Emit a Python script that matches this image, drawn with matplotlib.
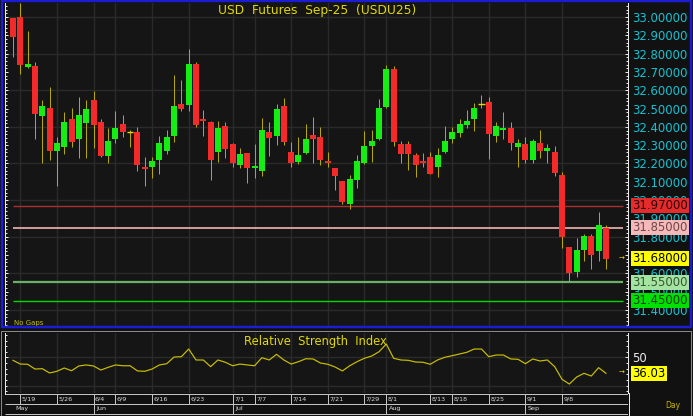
import matplotlib
matplotlib.use('Agg')
import matplotlib.pyplot as plt
from matplotlib.ticker import FixedLocator, MultipleLocator
from matplotlib.transforms import blended_transform_factory
from matplotlib.patches import Rectangle
import numpy as np

# ---------------- data ----------------
opens = [32.993, 33.002, 32.728, 32.734, 32.459, 32.504, 32.269, 32.291, 32.443, 32.332,
         32.422, 32.546, 32.425, 32.240, 32.332, 32.415, 32.373, 32.373, 32.182, 32.182,
         32.219, 32.269, 32.350, 32.523, 32.519, 32.743, 32.443, 32.425, 32.260, 32.404,
         32.304, 32.191, 32.255, 32.173, 32.160, 32.373, 32.350, 32.514, 32.264, 32.209,
         32.258, 32.355, 32.346, 32.213, 32.173, 32.104, 31.978, 32.109, 32.200, 32.297,
         32.331, 32.510, 32.714, 32.304, 32.304, 32.246, 32.213, 32.233, 32.182, 32.260,
         32.332, 32.364, 32.410, 32.441, 32.523, 32.534, 32.350, 32.383, 32.395, 32.291,
         32.304, 32.219, 32.313, 32.269, 32.264, 32.137, 31.745, 31.608, 31.730, 31.803,
         31.721, 31.849]
highs = [32.995, 33.075, 32.923, 32.752, 32.546, 32.616, 32.346, 32.483, 32.504, 32.565,
         32.546, 32.597, 32.443, 32.395, 32.486, 32.464, 32.383, 32.400, 32.233, 32.233,
         32.350, 32.383, 32.683, 32.656, 32.823, 32.752, 32.492, 32.433, 32.433, 32.425,
         32.311, 32.283, 32.255, 32.304, 32.446, 32.425, 32.523, 32.556, 32.315, 32.343,
         32.414, 32.455, 32.400, 32.264, 32.173, 32.104, 32.137, 32.246, 32.377, 32.383,
         32.552, 32.738, 32.734, 32.324, 32.324, 32.258, 32.258, 32.264, 32.286, 32.404,
         32.400, 32.443, 32.492, 32.532, 32.574, 32.561, 32.425, 32.483, 32.425, 32.333,
         32.343, 32.332, 32.383, 32.306, 32.297, 32.155, 31.745, 31.794, 31.814, 31.814,
         31.933, 31.863]
lows = [32.780, 32.689, 32.720, 32.332, 32.200, 32.219, 32.078, 32.250, 32.291, 32.231,
        32.231, 32.283, 32.233, 32.200, 32.310, 32.346, 32.291, 32.160, 32.078, 32.119,
        32.142, 32.250, 32.319, 32.488, 32.488, 32.400, 32.350, 32.109, 32.209, 32.228,
        32.182, 32.173, 32.091, 32.119, 32.131, 32.240, 32.300, 32.300, 32.182, 32.197,
        32.251, 32.200, 32.191, 32.182, 32.055, 31.978, 31.949, 32.064, 32.195, 32.209,
        32.330, 32.503, 32.297, 32.200, 32.164, 32.124, 32.182, 32.142, 32.124, 32.257,
        32.313, 32.343, 32.392, 32.379, 32.501, 32.222, 32.319, 32.332, 32.273, 32.182,
        32.200, 32.200, 32.228, 32.200, 32.131, 31.741, 31.554, 31.581, 31.668, 31.621,
        31.667, 31.621]
closes = [32.889, 32.738, 32.743, 32.470, 32.514, 32.269, 32.313, 32.425, 32.319, 32.464,
          32.496, 32.410, 32.240, 32.322, 32.395, 32.370, 32.373, 32.191, 32.169, 32.213,
          32.313, 32.346, 32.514, 32.497, 32.743, 32.410, 32.432, 32.219, 32.395, 32.279,
          32.200, 32.251, 32.173, 32.186, 32.383, 32.340, 32.496, 32.319, 32.200, 32.246,
          32.333, 32.332, 32.219, 32.200, 32.131, 31.991, 32.113, 32.213, 32.295, 32.324,
          32.504, 32.714, 32.319, 32.251, 32.251, 32.191, 32.200, 32.142, 32.246, 32.322,
          32.370, 32.414, 32.433, 32.504, 32.523, 32.361, 32.404, 32.395, 32.310, 32.313,
          32.219, 32.322, 32.269, 32.286, 32.149, 31.800, 31.600, 31.727, 31.803, 31.699,
          31.863, 31.680]
rsi = [47.5, 44.2, 44.0, 39.8, 40.1, 36.3, 37.8, 40.7, 38.3, 42.5,
       43.4, 42.5, 38.9, 41.3, 43.4, 42.7, 42.7, 38.1, 37.8, 39.8,
       43.4, 44.5, 50.4, 50.7, 57.5, 47.8, 47.8, 41.9, 47.8, 45.8,
       42.7, 44.2, 43.4, 42.7, 49.8, 47.8, 52.8, 47.8, 44.2, 46.3,
       48.9, 48.7, 45.1, 44.0, 41.6, 38.1, 42.7, 46.3, 49.3, 51.3,
       55.1, 61.9, 49.3, 47.8, 47.5, 46.0, 45.8, 44.0, 47.8, 50.2,
       51.6, 53.1, 54.6, 57.5, 57.5, 50.7, 52.2, 52.2, 48.7, 48.4,
       44.5, 48.7, 46.9, 47.8, 41.9, 30.7, 26.5, 32.7, 36.0, 33.6,
       41.0, 36.03]
tick_idx = [1, 6, 11, 14, 19, 24, 30, 33, 38, 43, 48, 51, 57, 60, 65, 70, 75]
tick_labels = ['5/19', '5/26', '6/4', '6/9', '6/16', '6/23', '7/1', '7/7', '7/14',
               '7/21', '7/29', '8/1', '8/13', '8/18', '8/25', '9/1', '9/8']
month_idx = [0, 11, 30, 51, 70]
month_labels = ['May', 'Jun', 'Jul', 'Aug', 'Sep']
levels = [31.97, 31.85, 31.55, 31.45]
level_line_colors = ['#a83030', '#e2a8a8', '#68b068', '#00d800']
level_line_widths = [1.0, 1.3, 1.6, 1.0]
level_box_colors = ['#e42c2c', '#f6b8b8', '#a4e4a0', '#00e000']
level_text_colors = ['#2a0000', '#6a4848', '#345434', '#0a3a0a']
price_ticks = [31.4, 31.5, 31.6, 31.7, 31.8, 31.9, 32.0, 32.1, 32.2, 32.3,
               32.4, 32.5, 32.6, 32.7, 32.8, 32.9, 33.0]
title = 'USD  Futures  Sep-25  (USDU25)'
rsi_title = 'Relative  Strength  Index'

# ---------------- style ----------------
W, H = 693, 416
BG = '#151515'
FIGBG = '#111111'
GRID = '#2a2a2a'
YEL = '#e2d800'
CYAN = '#12c4d4'
UP = '#14ee14'
DOWN = '#f22a2a'
WICK = '#b4a800'
PX = 0.72  # points per pixel at dpi 100

fig = plt.figure(figsize=(W / 100, H / 100), dpi=100, facecolor=FIGBG)


def add_ax(x0, y0, x1, y1, **kw):
    return fig.add_axes([x0 / W, 1 - y1 / H, (x1 - x0) / W, (y1 - y0) / H], **kw)


XL = (5 - 13) / 7.32
XR = (628 - 13) / 7.32

# ---------------- main price panel ----------------
ax = add_ax(5, 3, 628, 326)
ax.set_facecolor(BG)
ax.set_xlim(XL, XR)
ax.set_ylim(31.3124, 33.0765)
for s in ['top', 'bottom']:
    ax.spines[s].set_visible(False)
for s in ['left', 'right']:
    ax.spines[s].set_color('#e8e8e8')
    ax.spines[s].set_linewidth(PX)
ax.set_xticks([])
ax.yaxis.set_major_locator(FixedLocator(price_ticks))
ax.yaxis.set_minor_locator(MultipleLocator(0.02))
ax.set_yticklabels(['%.5f' % t for t in price_ticks])
ax.tick_params(axis='y', which='both', left=True, right=True, labelleft=False,
               labelright=True, direction='in', color='#e8e8e8', width=PX)
ax.tick_params(axis='y', which='major', length=3.3 * PX, pad=3.0,
               labelcolor=CYAN, labelsize=8.4)
ax.tick_params(axis='y', which='minor', length=1.8 * PX)

for g in np.arange(31.4, 33.01, 0.2):
    ax.axhline(g, color=GRID, lw=1.4 * PX, zorder=0)
for t in tick_idx:
    ax.axvline(t, color=GRID, lw=1.4 * PX, zorder=0)

n = len(closes)
x = np.arange(n)
o = np.array(opens); c = np.array(closes); hi = np.array(highs); lo = np.array(lows)
ax.vlines(x, lo, hi, color=WICK, lw=1.0 * PX, zorder=2)
body_w = 0.82
for i in range(n):
    if abs(c[i] - o[i]) < 0.003:
        ax.hlines(o[i], i - 0.45, i + 0.45, color=YEL, lw=1.4 * PX, zorder=3)
    else:
        col = UP if c[i] > o[i] else DOWN
        ax.bar(i, abs(c[i] - o[i]), bottom=min(o[i], c[i]), width=body_w,
               color=col, edgecolor='none', zorder=3)

ax.hlines(levels, 0, 83.3, colors=level_line_colors,
          linewidths=[w * 1.0 for w in level_line_widths], zorder=1)

tr = blended_transform_factory(ax.transAxes, ax.transData)
lab_x = 1 + 4.5 / 623
for lv, bc, tc in zip(levels, level_box_colors, level_text_colors):
    ax.text(lab_x, lv, '%.5f' % lv, transform=tr, ha='left', va='center',
            fontsize=8.4, color=tc, clip_on=False, zorder=6,
            bbox=dict(boxstyle='square,pad=0.1', fc=bc, ec='none'))
last = closes[-1]
ax.text(lab_x, last, '%.5f' % last, transform=tr, ha='left', va='center',
        fontsize=8.4, color='#000000', clip_on=False, zorder=6,
        bbox=dict(boxstyle='square,pad=0.1', fc='#ffff00', ec='none'))
ax.text(83.2, last, '→', ha='center', va='center', fontsize=5, color=YEL,
        zorder=6, clip_on=False)

fig.text(14 / W, 1 - 323 / H, 'No Gaps', fontsize=5, color='#c4c000',
         ha='left', va='center')
fig.text(317 / W, 1 - 10.5 / H, title, fontsize=8.8, color=YEL,
         ha='center', va='center')

# ---------------- RSI panel ----------------
ax2 = add_ax(5, 333, 628, 393)
ax2.set_facecolor(BG)
ax2.set_xlim(XL, XR)
ax2.set_ylim(18.58, 71.68)
for s in ['top', 'bottom']:
    ax2.spines[s].set_visible(False)
for s in ['left', 'right']:
    ax2.spines[s].set_color('#e8e8e8')
    ax2.spines[s].set_linewidth(PX)
ax2.set_xticks([])
ax2.yaxis.set_major_locator(FixedLocator([50]))
ax2.yaxis.set_minor_locator(MultipleLocator(5))
ax2.tick_params(axis='y', which='both', left=True, right=True, labelleft=False,
                labelright=True, direction='in', color='#e8e8e8', width=PX)
ax2.tick_params(axis='y', which='major', length=3.3 * PX, pad=3.0,
                labelcolor='#ececec', labelsize=8.4)
ax2.tick_params(axis='y', which='minor', length=1.8 * PX)
for g in [25, 50]:
    ax2.axhline(g, color=GRID, lw=1.4 * PX, zorder=0)
for t in tick_idx:
    ax2.axvline(t, color=GRID, lw=1.4 * PX, zorder=0)
ax2.plot(x, rsi, color='#c8be00', lw=1.2 * PX, zorder=3)
tr2 = blended_transform_factory(ax2.transAxes, ax2.transData)
ax2.text(lab_x, rsi[-1], '%.2f' % rsi[-1], transform=tr2, ha='left', va='center',
         fontsize=8.4, color='#000000', clip_on=False, zorder=6,
         bbox=dict(boxstyle='square,pad=0.1', fc='#ffff00', ec='none'))
ax2.text(83.1, rsi[-1], '→', ha='center', va='center', fontsize=5, color=YEL,
         zorder=6, clip_on=False)
fig.text(315 / W, 1 - 341 / H, rsi_title, fontsize=8.3, color=YEL,
         ha='center', va='center')

# ---------------- date axis ----------------
ax3 = add_ax(5, 393, 628, 416)
ax3.set_facecolor(FIGBG)
ax3.set_xlim(XL, XR)
ax3.set_ylim(416, 393)
ax3.axis('off')
LINE = '#c4c4c4'
ax3.hlines([394, 403.5, 414], XL, XR, colors=LINE, lw=PX)
ax3.vlines(tick_idx, 394, 403.5, colors=LINE, lw=PX)
ax3.vlines(month_idx[1:], 394, 414, colors=LINE, lw=PX)
for t, lab in zip(tick_idx, tick_labels):
    ax3.text(t + 0.2, 399, lab, fontsize=4.6, color='#dcdcdc', ha='left', va='center')
for t, lab in zip(month_idx, month_labels):
    ax3.text(t + 0.33, 408.8, lab, fontsize=4.6, color='#dcdcdc', ha='left', va='center')

fig.text(665 / W, 1 - 405 / H, 'Day', fontsize=5.5, color='#c8b800',
         ha='left', va='center')

# ---------------- frames ----------------
ax0 = fig.add_axes([0, 0, 1, 1], zorder=20)
ax0.set_xlim(0, W)
ax0.set_ylim(H, 0)
ax0.axis('off')
ax0.patch.set_alpha(0)
ax0.add_patch(Rectangle((1.5, 1.3), 689, 325.5, fill=False, ec='#1c1cd0', lw=2.5 * PX))
ax0.add_patch(Rectangle((1, 331), 690, 84.5, fill=False, ec='#8a8a8a', lw=PX))
ax0.plot([628.5, 628.5], [393, 416], color='#e8e8e8', lw=PX)
ax0.plot([5, 5], [393, 394], color='#e8e8e8', lw=PX)

fig.savefig('out.png', dpi=100, facecolor=FIGBG)
